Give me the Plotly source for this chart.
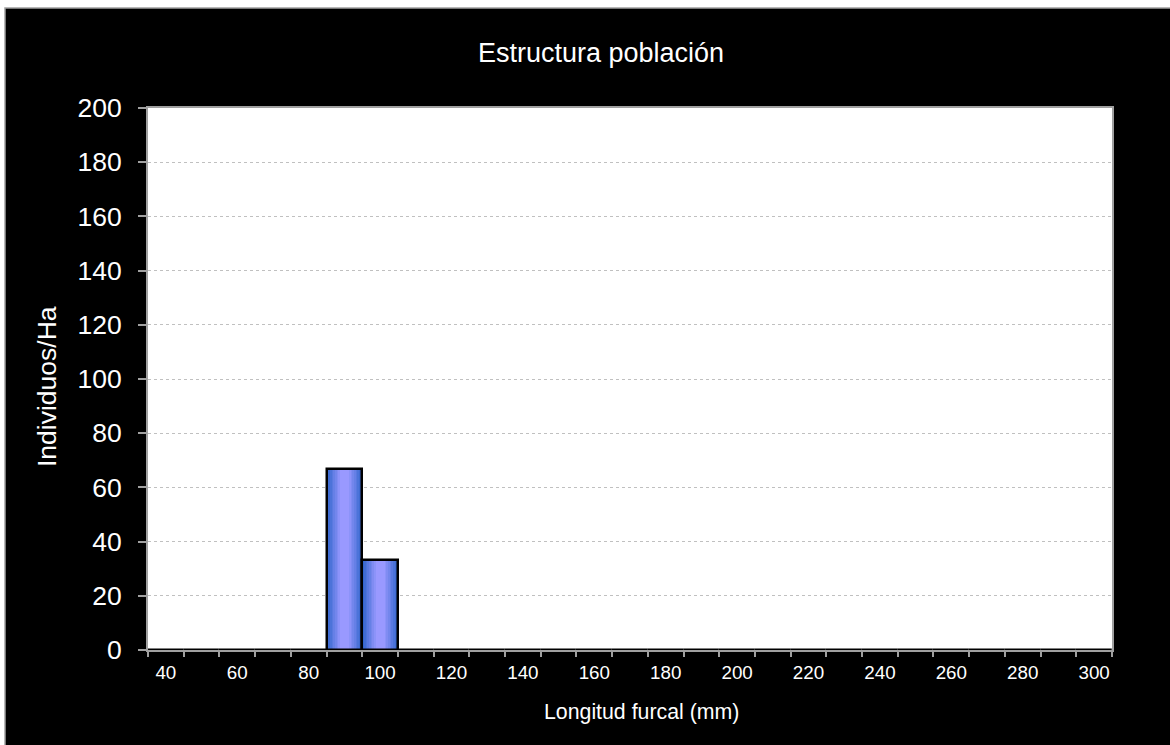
import plotly.graph_objects as go

# ---- data ----
categories = ["40", "50", "60", "70", "80", "90", "100", "110", "120", "130", "140",
              "150", "160", "170", "180", "190", "200", "210", "220", "230", "240",
              "250", "260", "270", "280", "290", "300"]
values = [0, 0, 0, 0, 0, 66.67, 33.33, 0, 0, 0, 0,
          0, 0, 0, 0, 0, 0, 0, 0, 0, 0,
          0, 0, 0, 0, 0, 0]
tick_labels = ["40", "", "60", "", "80", "", "100", "", "120", "", "140",
               "", "160", "", "180", "", "200", "", "220", "", "240",
               "", "260", "", "280", "", "300"]
y_ticks = [0, 20, 40, 60, 80, 100, 120, 140, 160, 180, 200]

title_text = "Estructura población"
x_title = "Longitud furcal (mm)"
y_title = "Individuos/Ha"

FONT = "Liberation Sans, Arial, sans-serif"

# plot-area geometry in pixels
W, H = 1170, 745
L, R, T, B = 148, 58, 108, 95
PW = W - L - R
PH = H - T - B

def px_to_paper_x(px):
    return (px - L) / PW

def px_to_paper_y(py):
    return (H - B - py) / PH

fig = go.Figure()

# gradient simulation: overlaid bars of decreasing width
c0 = (51, 102, 204)
c1 = (153, 153, 255)
n = 9
for i in range(n):
    t = i / (n - 1)
    col = "rgb(%d,%d,%d)" % tuple(round(a + (b - a) * t) for a, b in zip(c0, c1))
    w = 1.0 - 0.75 * t
    fig.add_trace(go.Bar(x=categories, y=values, width=w,
                         marker=dict(color=col, line=dict(width=0)),
                         showlegend=False, hoverinfo="skip"))
# outline
fig.add_trace(go.Bar(x=categories, y=values, width=1.0,
                     marker=dict(color="rgba(0,0,0,0)", line=dict(color="black", width=2.5)),
                     showlegend=False))

fig.update_layout(
    width=W, height=H,
    margin=dict(l=L, r=R, t=T, b=B, pad=0),
    paper_bgcolor="white",
    plot_bgcolor="white",
    barmode="overlay",
    bargap=0,
    font=dict(family=FONT, color="white"),
    shapes=[
        dict(type="rect", xref="paper", yref="paper", layer="below",
             x0=px_to_paper_x(5), x1=px_to_paper_x(W + 20),
             y0=px_to_paper_y(H + 20), y1=px_to_paper_y(8),
             fillcolor="black", line=dict(color="#a0a0a0", width=1.5)),
        dict(type="rect", xref="paper", yref="paper", layer="below",
             x0=0, x1=1, y0=0, y1=1,
             fillcolor="white", line=dict(width=0)),
    ],
    annotations=[
        dict(text=title_text, xref="paper", yref="paper",
             x=px_to_paper_x(601), y=px_to_paper_y(53),
             xanchor="center", yanchor="middle", showarrow=False,
             font=dict(size=27, color="white", family=FONT)),
        dict(text=y_title, xref="paper", yref="paper",
             x=px_to_paper_x(47), y=px_to_paper_y(387), textangle=-90,
             xanchor="center", yanchor="middle", showarrow=False,
             font=dict(size=26.5, color="white", family=FONT)),
        dict(text=x_title, xref="paper", yref="paper",
             x=px_to_paper_x(641), y=px_to_paper_y(712),
             xanchor="center", yanchor="middle", showarrow=False,
             font=dict(size=21.3, color="white", family=FONT)),
    ],
)

fig.update_xaxes(
    type="category",
    categoryorder="array", categoryarray=categories,
    tickmode="array", tickvals=categories, ticktext=tick_labels,
    tickson="boundaries", tickangle=0,
    ticks="outside", ticklen=5, tickcolor="#a0a0a0", tickwidth=1.5,
    ticklabelstandoff=4,
    tickfont=dict(size=18.8, color="white", family=FONT),
    showline=True, linecolor="#a0a0a0", linewidth=2, mirror=True,
    showgrid=False, zeroline=False,
    range=[-0.5, len(categories) - 0.5],
)
fig.update_yaxes(
    range=[0, 200],
    tickmode="array", tickvals=y_ticks,
    ticks="outside", ticklen=8, tickcolor="#a0a0a0", tickwidth=1.5,
    ticklabelstandoff=11,
    tickfont=dict(size=26.5, color="white", family=FONT),
    showline=True, linecolor="#a0a0a0", linewidth=2, mirror=True,
    showgrid=True, gridcolor="#c0c0c0", griddash="dot", gridwidth=1,
    zeroline=False,
)

fig.write_html("out.html", config={"displayModeBar": False},
               post_script="document.body.style.margin='0';document.body.style.overflow='hidden';")
